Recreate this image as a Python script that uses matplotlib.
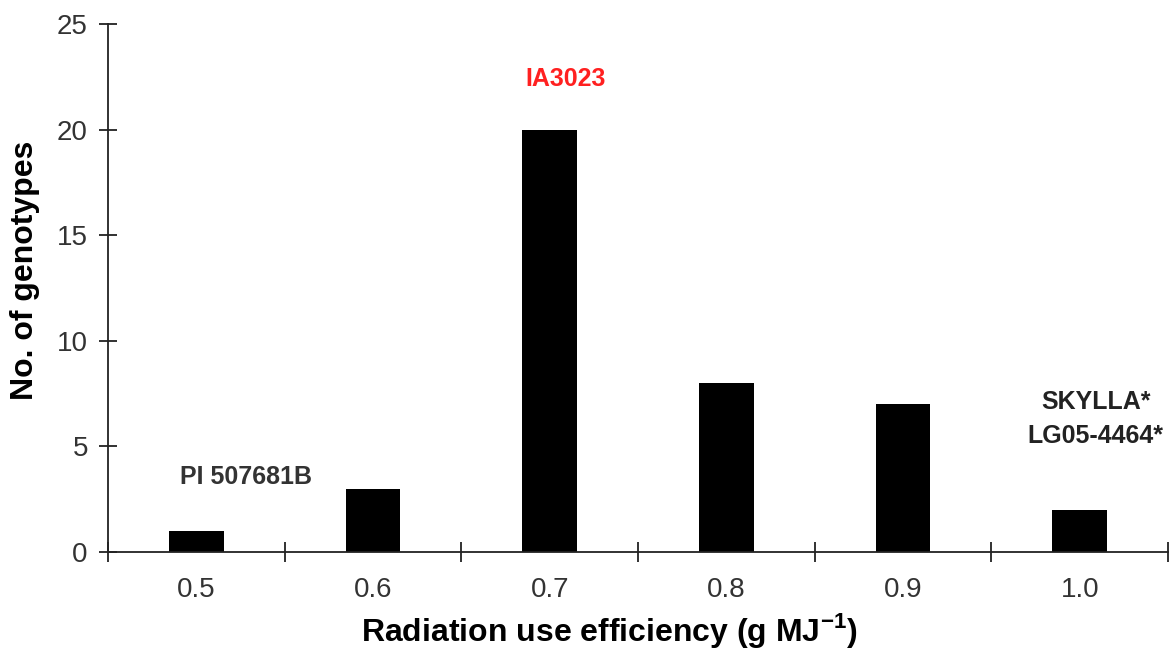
import numpy as np
import matplotlib.pyplot as plt

# histogram of radiation use efficiency across genotypes

# [DATA] ----------------------------------------------------------------------
rue_classes = ["0.5", "0.6", "0.7", "0.8", "0.9", "1.0"]
n_genotypes = [1, 3, 20, 8, 7, 2]

# genotype callouts: (label, x in class units, y, colour, size)
callouts = [
    ("PI 507681B", 0.28, 3.55, "#333333", 18),
    ("IA3023", 2.09, 22.4, "#ff2020", 18),
    ("SKYLLA*", 5.09, 7.1, "#222222", 18),
    ("LG05-4464*", 5.09, 5.5, "#222222", 18),
]
# [END DATA]

plt.rcParams['font.family'] = ['Liberation Sans', 'DejaVu Sans']
plt.rcParams['mathtext.fontset'] = 'custom'
plt.rcParams['mathtext.rm'] = 'Liberation Sans'
plt.rcParams['mathtext.bf'] = 'Liberation Sans:bold'

fig = plt.figure(figsize=(11.74, 6.54), dpi=100)
ax = fig.add_axes([0.092, 0.156, 0.903, 0.807])

x = np.arange(len(rue_classes))
ax.bar(x, n_genotypes, width=0.31, color="black", zorder=2)

ax.set_xlim(-0.5, len(rue_classes) - 0.5)
ax.set_ylim(0, 25)
ax.set_yticks(np.arange(0, 26, 5))

# category labels centred, ticks sitting between classes
ax.set_xticks(x)
ax.set_xticklabels(rue_classes)
ax.tick_params(axis="x", which="major", length=0, pad=18)
ax.set_xticks(np.arange(-0.5, len(rue_classes)), minor=True)
ax.tick_params(axis="x", which="minor", direction="inout", length=14,
               width=1.3, color="#222222")
ax.tick_params(axis="y", direction="inout", length=13, width=1.3,
               color="#222222", pad=8)
ax.tick_params(labelsize=20, labelcolor="#333333")

for side in ["top", "right"]:
    ax.spines[side].set_visible(False)
for side in ["left", "bottom"]:
    ax.spines[side].set_linewidth(1.3)
    ax.spines[side].set_color("#222222")

ax.set_xlabel("Radiation use efficiency (g MJ$^{\\mathbf{-1}}$)", fontsize=23,
              fontweight="bold", labelpad=6)
ax.xaxis.label.set_x(0.473)
ax.set_ylabel("No. of genotypes", fontsize=23, fontweight="bold", labelpad=12)
ax.yaxis.label.set_y(0.534)

for label, cx, cy, col, fs in callouts:
    ax.text(cx, cy, label, ha="center", va="center", fontsize=fs,
            fontweight="bold", color=col)

fig.savefig("out.png", dpi=100)
